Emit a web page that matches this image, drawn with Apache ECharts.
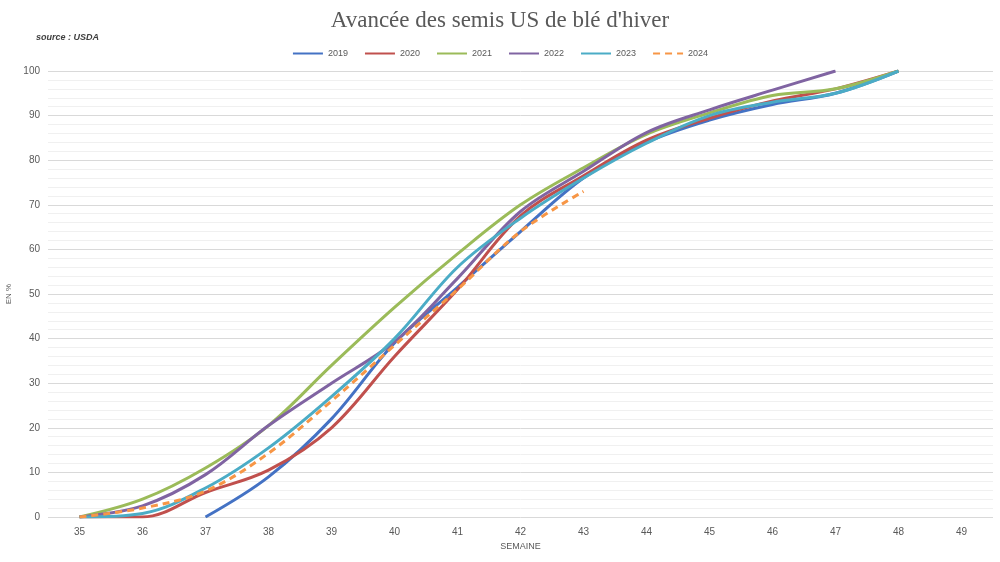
<!DOCTYPE html>
<html>
<head>
<meta charset="utf-8">
<script src="https://cdn.jsdelivr.net/npm/echarts@6/dist/echarts.min.js"></script>
<style>
html, body { margin: 0; padding: 0; background: #fff; }
#chart { width: 1000px; height: 562px; }
</style>
</head>
<body>
<div id="chart"></div>
<script>
// semaines
var weeks = ['35', '36', '37', '38', '39', '40', '41', '42', '43', '44', '45', '46', '47', '48', '49'];
var yearNames = ['2019', '2020', '2021', '2022', '2023', '2024'];
// avancée en %
var s2019 = [null, null, 0, 9, 22, 39, 51.5, 64, 76, 84, 89, 92.5, 95, 100, null];
var s2020 = [0, 0, 5.5, 10.5, 20, 36, 51, 67.5, 76.5, 84.5, 89.4, 93.3, 96, 100, null];
var s2021 = [0, 4, 11, 20.5, 34, 47, 59, 70, 78.3, 85.8, 90.6, 94.5, 96, 100, null];
var s2022 = [0, 2.5, 9.5, 20.5, 30, 39.3, 53.5, 68.5, 77.5, 86.2, 91.3, 95.7, 100, null, null];
var s2023 = [0, 0.8, 6.5, 15.5, 27, 40, 56, 67, 76, 83.8, 90, 93, 95, 100, null];
var s2024 = [0, 2, 5.8, 14.3, 26, 38.5, 51, 64, 73, null, null, null, null, null, null];
var colors = ['#4472C4', '#C0504D', '#9BBB59', '#8064A2', '#4BACC6', '#F79646'];

var seriesData = [s2019, s2020, s2021, s2022, s2023, s2024];
var series = [];
for (var i = 0; i < seriesData.length; i++) {
    series.push({
        name: yearNames[i],
        type: 'line',
        data: seriesData[i],
        smooth: 0.35,
        symbol: 'none',
        connectNulls: false,
        lineStyle: {
            width: 3,
            color: colors[i],
            type: i === 5 ? [7, 5] : 'solid'
        },
        itemStyle: { color: colors[i] }
    });
}

var myChart = echarts.init(document.getElementById('chart'));
var option = {
    animation: false,
    backgroundColor: '#fff',
    title: [{
        text: "Avancée des semis US de blé d'hiver",
        left: 'center',
        top: 4,
        textStyle: {
            fontFamily: 'Liberation Serif',
            fontWeight: 'normal',
            fontSize: 23,
            color: '#595959'
        }
    }, {
        text: 'source : USDA',
        left: 31,
        top: 28,
        textStyle: {
            fontFamily: 'Liberation Sans',
            fontStyle: 'italic',
            fontWeight: 'bold',
            fontSize: 9,
            color: '#404040'
        }
    }],
    legend: {
        data: yearNames,
        top: 44,
        left: 'center',
        itemWidth: 30,
        itemHeight: 10,
        itemGap: 16,
        itemStyle: { opacity: 0 },
        textStyle: {
            fontFamily: 'Liberation Sans',
            fontSize: 9,
            color: '#595959'
        }
    },
    grid: {
        left: 48,
        right: 7,
        top: 71,
        bottom: 45,
        containLabel: false,
        outerBoundsMode: 'none'
    },
    xAxis: {
        type: 'category',
        data: weeks,
        boundaryGap: true,
        name: 'SEMAINE',
        nameLocation: 'middle',
        nameGap: 25,
        nameTextStyle: {
            fontFamily: 'Liberation Sans',
            fontSize: 9,
            color: '#595959'
        },
        axisLine: { show: false },
        axisTick: { show: false },
        axisLabel: {
            fontFamily: 'Liberation Sans',
            fontSize: 10,
            color: '#595959',
            margin: 10
        },
        splitLine: { show: false }
    },
    yAxis: {
        type: 'value',
        min: 0,
        max: 100,
        interval: 10,
        name: 'EN %',
        nameLocation: 'middle',
        nameGap: 27,
        nameTextStyle: {
            fontFamily: 'Liberation Sans',
            fontSize: 8,
            color: '#595959'
        },
        axisLine: { show: false },
        axisTick: { show: false },
        axisLabel: {
            fontFamily: 'Liberation Sans',
            fontSize: 10,
            color: '#595959',
            margin: 8
        },
        splitLine: {
            show: true,
            lineStyle: { color: '#d9d9d9', width: 1 }
        },
        minorTick: { show: false, splitNumber: 5 },
        minorSplitLine: {
            show: true,
            lineStyle: { color: '#f0f0f0', width: 1 }
        }
    },
    series: series
};
myChart.setOption(option);
</script>
</body>
</html>
